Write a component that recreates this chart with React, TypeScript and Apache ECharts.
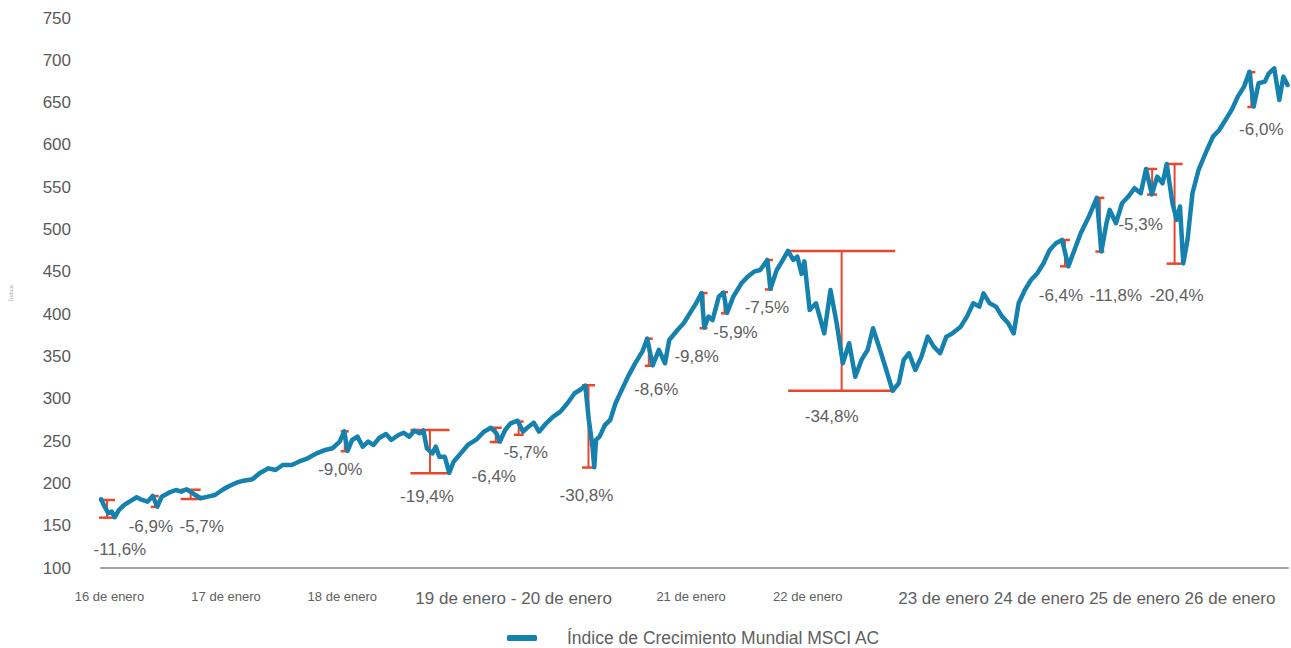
import React, { useEffect, useRef } from 'react';
import * as echarts from 'echarts';

// ---- Data (decimal years, index level) ----
const years = [
  2016.001, 2016.031, 2016.062, 2016.092, 2016.116, 2016.153, 2016.198, 2016.243, 2016.304, 2016.349,
  2016.395, 2016.440, 2016.480, 2016.517, 2016.577, 2016.637, 2016.683, 2016.729, 2016.789, 2016.849,
  2016.910, 2016.970, 2017.031, 2017.092, 2017.153, 2017.213, 2017.288, 2017.349, 2017.425, 2017.485,
  2017.546, 2017.622, 2017.683, 2017.758, 2017.834, 2017.909, 2017.970, 2018.031, 2018.070, 2018.098,
  2018.137, 2018.182, 2018.227, 2018.273, 2018.319, 2018.364, 2018.425, 2018.470, 2018.531, 2018.576,
  2018.622, 2018.667, 2018.713, 2018.743, 2018.773, 2018.819, 2018.849, 2018.879, 2018.925, 2018.963,
  2019.000, 2019.061, 2019.121, 2019.197, 2019.258, 2019.318, 2019.364, 2019.394, 2019.439, 2019.485,
  2019.545, 2019.591, 2019.621, 2019.682, 2019.727, 2019.788, 2019.848, 2019.909, 2019.969, 2020.030,
  2020.075, 2020.121, 2020.151, 2020.182, 2020.197, 2020.212, 2020.242, 2020.288, 2020.333, 2020.378,
  2020.424, 2020.484, 2020.545, 2020.606, 2020.648, 2020.694, 2020.747, 2020.799, 2020.835, 2020.905,
  2020.958, 2021.010, 2021.063, 2021.110, 2021.133, 2021.169, 2021.204, 2021.257, 2021.297, 2021.327,
  2021.380, 2021.450, 2021.503, 2021.556, 2021.609, 2021.670, 2021.696, 2021.750, 2021.802, 2021.845,
  2021.891, 2021.925, 2021.961, 2021.985, 2022.030, 2022.084, 2022.154, 2022.207, 2022.260, 2022.312,
  2022.366, 2022.418, 2022.471, 2022.523, 2022.569, 2022.629, 2022.682, 2022.735, 2022.788, 2022.830,
  2022.875, 2022.929, 2022.981, 2023.034, 2023.086, 2023.140, 2023.193, 2023.245, 2023.315, 2023.368,
  2023.422, 2023.474, 2023.509, 2023.562, 2023.615, 2023.668, 2023.720, 2023.766, 2023.808, 2023.861,
  2023.913, 2023.967, 2024.020, 2024.072, 2024.125, 2024.178, 2024.231, 2024.283, 2024.336, 2024.406,
  2024.473, 2024.512, 2024.555, 2024.583, 2024.636, 2024.688, 2024.741, 2024.794, 2024.847, 2024.892,
  2024.942, 2024.987, 2025.033, 2025.068, 2025.117, 2025.153, 2025.181, 2025.209, 2025.245, 2025.287,
  2025.339, 2025.410, 2025.462, 2025.515, 2025.568, 2025.621, 2025.673, 2025.726, 2025.772, 2025.808,
  2025.850, 2025.903, 2025.937, 2025.983, 2026.026, 2026.061, 2026.096,
];

const values = [
  181.2, 172.5, 164.7, 166.6, 160.0, 168.6, 174.5, 178.4, 183.6, 180.4,
  178.4, 185.1, 172.5, 184.3, 189.0, 192.2, 190.2, 193.0, 187.5, 182.4,
  184.3, 186.3, 192.2, 196.9, 200.8, 203.2, 204.8, 211.9, 217.8, 215.8,
  221.7, 221.7, 225.6, 229.6, 235.5, 239.5, 241.5, 249.3, 261.5, 238.5,
  251.3, 255.2, 243.4, 249.3, 245.4, 253.3, 258.4, 251.3, 257.2, 259.9,
  255.2, 262.3, 259.2, 262.5, 241.5, 235.5, 243.4, 231.6, 231.6, 212.5,
  225.6, 235.5, 245.4, 252.1, 261.1, 265.8, 259.2, 249.5, 263.1, 271.0,
  274.1, 261.1, 265.1, 271.7, 261.1, 271.0, 278.9, 284.8, 294.7, 306.5,
  310.4, 315.5, 274.9, 243.4, 219.0, 251.3, 255.2, 269.0, 274.9, 294.7,
  308.4, 326.1, 341.9, 355.7, 371.0, 339.5, 357.7, 342.0, 369.5, 381.3,
  389.2, 401.0, 412.8, 425.0, 384.0, 397.1, 393.1, 420.7, 425.5, 401.5,
  420.7, 436.5, 444.3, 450.2, 452.2, 464.0, 430.0, 452.2, 464.1, 474.7,
  464.1, 468.0, 447.6, 462.4, 404.9, 412.8, 377.3, 428.6, 389.2, 342.0,
  365.6, 326.1, 345.9, 357.7, 383.3, 357.7, 334.0, 309.5, 318.3, 345.9,
  353.8, 334.0, 349.8, 373.4, 361.6, 353.8, 373.4, 377.3, 385.2, 397.1,
  412.8, 408.9, 424.6, 412.8, 408.9, 397.1, 389.2, 377.3, 412.8, 428.6,
  440.4, 448.3, 460.1, 475.9, 483.8, 487.7, 456.5, 475.9, 495.6, 515.3,
  537.4, 474.0, 507.4, 523.2, 507.4, 531.1, 539.0, 548.8, 542.9, 571.6,
  541.5, 562.5, 554.7, 577.5, 531.1, 511.4, 527.2, 460.0, 487.7, 542.9,
  570.4, 594.0, 609.8, 617.7, 629.5, 641.4, 657.1, 668.9, 686.5, 645.5,
  672.9, 674.8, 684.6, 690.5, 653.2, 680.7, 670.9,
];

// ---- Drawdown annotations ----
const ddYear = [
  2016.051, 2016.458, 2016.763, 2018.074, 2018.799, 2019.359, 2019.554, 2020.148, 2020.661,
  2021.127, 2021.305, 2021.683, 2022.302, 2024.202, 2024.499, 2024.944, 2025.135, 2025.788,
];
const ddPeak = [180.4, 185.0, 192.5, 261.5, 263.0, 265.8, 273.0, 316.0, 371.0, 425.0, 426.0, 464.0, 474.7, 487.7, 537.4, 571.6, 577.5, 686.0];
const ddTrough = [159.5, 172.2, 181.5, 238.0, 212.0, 248.8, 257.4, 218.7, 339.0, 383.4, 401.0, 429.2, 309.5, 456.5, 474.0, 541.3, 459.7, 644.8];
const ddText = [
  '-11,6%', '-6,9%', '-5,7%', '-9,0%', '-19,4%', '-6,4%', '-5,7%', '-30,8%', '-8,6%',
  '-9,8%', '-5,9%', '-7,5%', '-34,8%', '-6,4%', '-11,8%', '-5,3%', '-20,4%', '-6,0%',
];
const ddLabelYear = [
  2016.161, 2016.424, 2016.857, 2018.036, 2018.774, 2019.342, 2019.613, 2020.131, 2020.724,
  2021.068, 2021.399, 2021.666, 2022.217, 2024.168, 2024.634, 2024.846, 2025.152, 2025.873,
];
const ddLabelValue = [121.3, 149.6, 149.6, 216.5, 184.0, 208.5, 237.0, 186.0, 310.4, 349.4, 378.9, 407.3, 279.6, 422.6, 422.6, 505.4, 422.6, 618.8];

// ---- Axis labels ----
const xLabelValues = [2016.072, 2017.064, 2018.053, 2019.511, 2021.021, 2022.014, 2024.388];
const xLabelTexts = [
  '16 de enero', '17 de enero', '18 de enero', '19 de enero - 20 de enero',
  '21 de enero', '22 de enero', '23 de enero 24 de enero 25 de enero 26 de enero',
];
const xLabelBig = [false, false, false, true, false, false, true];

const seriesName = 'Índice de Crecimiento Mundial MSCI AC';

// ---- Styles ----
const FONT = '"Liberation Sans", Arial, Helvetica, sans-serif';
const BLUE = '#1581AE';
const RED = '#E8472E';
const TEXT = '#606060';
const capHalfPx = [8, 4, 10, 4, 19.5, 6, 5, 6.5, 4, 4, 3.5, 4, 53.5, 5, 4.5, 5, 8, 4];

export default function App() {
  const ref = useRef<HTMLDivElement>(null);

  useEffect(() => {
    if (!ref.current) return;
    const chart = echarts.init(ref.current, undefined, { renderer: 'svg' });
    const option: any = {
      animation: false,
      backgroundColor: '#ffffff',
      textStyle: { fontFamily: FONT },
      grid: { left: 97, right: 3, top: 18, bottom: 80, containLabel: false },
      legend: {
        data: [seriesName],
        top: 624,
        left: 502,
        icon: 'roundRect',
        itemWidth: 30,
        itemHeight: 6,
        textStyle: { fontSize: 17.5, color: TEXT, fontFamily: FONT, padding: [0, 0, 0, 25] },
      },
      xAxis: {
        type: 'value',
        min: 2016,
        max: 2026.1,
        splitLine: { show: false },
        axisLine: { show: true, lineStyle: { color: '#a3a3a3', width: 2 } },
        axisTick: { show: false },
        axisLabel: {
          customValues: xLabelValues,
          margin: 22,
          fontSize: 13,
          color: TEXT,
          fontFamily: FONT,
          formatter: (v: number) => {
            let best = 0;
            let bd = Infinity;
            xLabelValues.forEach((x, i) => {
              const d = Math.abs(x - v);
              if (d < bd) { bd = d; best = i; }
            });
            return xLabelBig[best] ? '{big|' + xLabelTexts[best] + '}' : xLabelTexts[best];
          },
          rich: { big: { fontSize: 17, color: TEXT, fontFamily: FONT } },
        },
      },
      yAxis: {
        type: 'value',
        min: 100,
        max: 750,
        interval: 50,
        name: 'Índice',
        nameLocation: 'middle',
        nameGap: 87,
        nameRotate: 90,
        nameTextStyle: { fontSize: 6, color: '#aaaaaa', fontFamily: FONT },
        splitLine: { show: false },
        axisLine: { show: false },
        axisTick: { show: false },
        axisLabel: { fontSize: 17, color: '#5a5a5a', margin: 30, fontFamily: FONT },
      },
      series: [
        {
          type: 'custom',
          z: 2,
          silent: true,
          data: ddYear.map((x, i) => [x, ddPeak[i], ddTrough[i]]),
          encode: { x: 0, y: [1, 2] },
          renderItem: (params: any, api: any) => {
            const i = params.dataIndex;
            const x = api.value(0);
            const top = api.coord([x, api.value(1)]);
            const bot = api.coord([x, api.value(2)]);
            const lab = api.coord([ddLabelYear[i], ddLabelValue[i]]);
            const h = capHalfPx[i];
            return {
              type: 'group',
              children: [
                { type: 'line', shape: { x1: top[0], y1: top[1], x2: bot[0], y2: bot[1] }, style: { stroke: RED, lineWidth: 2 } },
                { type: 'line', shape: { x1: top[0] - h, y1: top[1], x2: top[0] + h, y2: top[1] }, style: { stroke: RED, lineWidth: 2.5 } },
                { type: 'line', shape: { x1: bot[0] - h, y1: bot[1], x2: bot[0] + h, y2: bot[1] }, style: { stroke: RED, lineWidth: 2.5 } },
                {
                  type: 'text',
                  x: lab[0],
                  y: lab[1],
                  style: { text: ddText[i], fill: TEXT, fontSize: 17, fontFamily: FONT, align: 'center', verticalAlign: 'middle' },
                },
              ],
            };
          },
        },
        {
          name: seriesName,
          type: 'line',
          z: 3,
          showSymbol: false,
          data: years.map((y, i) => [y, values[i]]),
          lineStyle: { color: BLUE, width: 4.5, join: 'round', cap: 'round' },
          itemStyle: { color: BLUE },
        },
      ],
    };
    chart.setOption(option);
    return () => chart.dispose();
  }, []);

  return <div ref={ref} style={{ position: 'fixed', left: 0, top: 0, width: 1291, height: 648 }} />;
}
